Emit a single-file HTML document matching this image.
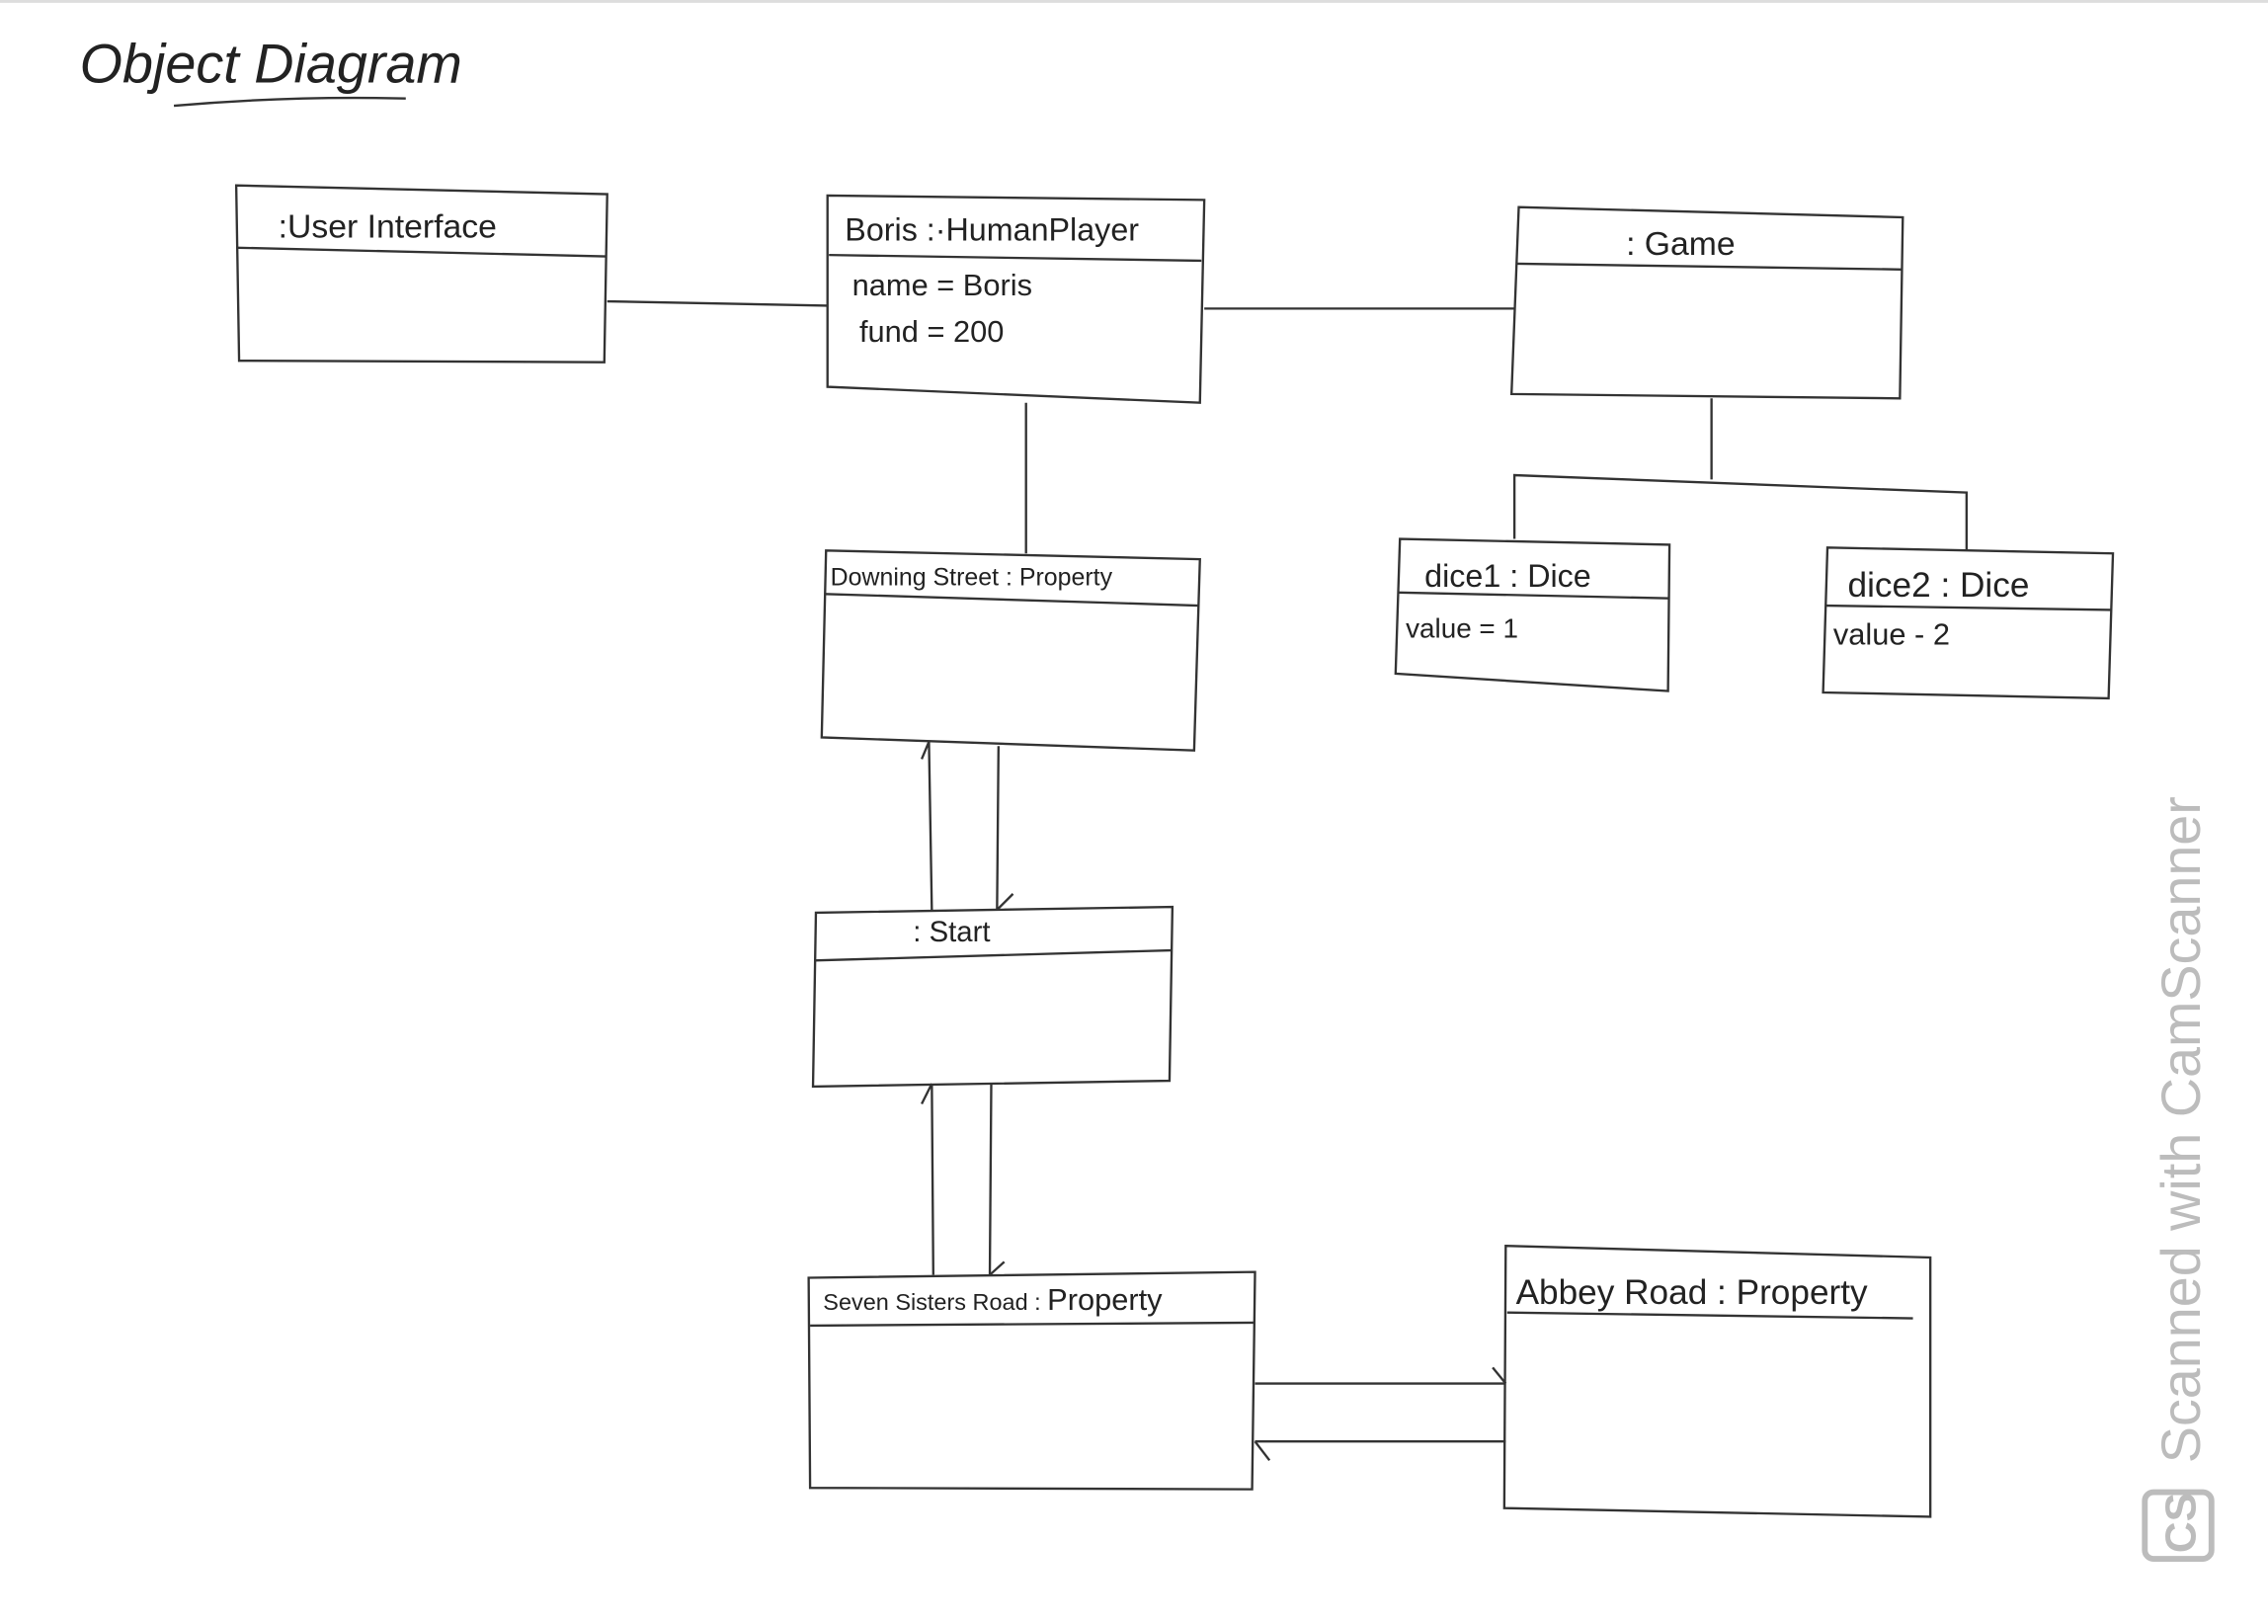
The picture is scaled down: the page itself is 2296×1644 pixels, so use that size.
<!DOCTYPE html>
<html><head><meta charset="utf-8"><style>
html,body{margin:0;padding:0;background:#fff;}
svg{display:block}
text{font-family:"Liberation Sans",sans-serif;fill:#222}
</style></head><body>
<svg width="2296" height="1644" viewBox="0 0 1565 1121" preserveAspectRatio="none" xmlns="http://www.w3.org/2000/svg">
<rect width="1565" height="1121" fill="#fff"/>
<line x1="0" y1="1" x2="1565" y2="1" stroke="#ddd" stroke-width="2"/>
<g fill="none" stroke="#333" stroke-width="1.6">
<path d="M120 73 Q200 66 280 68"/>
<path d="M163 128 L419 134 L417 250 L165 249 Z"/><path d="M164 171 L418 177"/>
<line x1="419" y1="208" x2="571" y2="211"/>
<path d="M571 135 L831 138 L828 278 L571 267 Z"/><path d="M572 176 L829 180"/>
<line x1="831" y1="213" x2="1045" y2="213"/>
<path d="M1048 143 L1313 150 L1311 275 L1043 272 Z"/><path d="M1047 182 L1312 186"/>
<path d="M1181 275 L1181 331"/><path d="M1045 372 L1045 328 L1357 340 L1357 380"/>
<path d="M966 372 L1152 376 L1151 477 L963 465 Z"/><path d="M965 409 L1152 413"/>
<path d="M1261 378 L1458 382 L1455 482 L1258 478 Z"/><path d="M1260 418 L1457 421"/>
<line x1="708" y1="278" x2="708" y2="382"/>
<path d="M570 380 L828 386 L824 518 L567 509 Z"/><path d="M569 410 L827 418"/>
<path d="M643 628 L641 512 M636 524 L641 512"/>
<path d="M689 515 L688 628 M688 628 L699 617"/>
<path d="M563 630 L809 626 L807 746 L561 750 Z"/><path d="M562 663 L808 656"/>
<path d="M644 880 L643 748 M636 762 L643 748"/>
<path d="M684 748 L683 880 M683 880 L693 871"/>
<path d="M558 882 L866 878 L864 1028 L559 1027 Z"/><path d="M559 915 L866 913"/>
<path d="M1039 860 L1332 868 L1332 1047 L1038 1041 Z"/><path d="M1040 906 L1320 910"/>
<path d="M866 955 L1039 955 M1030 944 L1039 955"/>
<path d="M866 995 L1039 995 M866 995 L876 1008"/>
</g>
<text x="55" y="57" font-size="38" font-style="italic">Object  Diagram</text>
<text x="192" y="164" font-size="23">:User Interface</text>
<text x="583" y="166" font-size="22">Boris :·HumanPlayer</text>
<text x="588" y="204" font-size="21">name = Boris</text>
<text x="593" y="236" font-size="21">fund  =  200</text>
<text x="1122" y="176" font-size="23" fill="#444">: Game</text>
<text x="983" y="405" font-size="22">dice1 : Dice</text>
<text x="970" y="440" font-size="19">value = 1</text>
<text x="1275" y="412" font-size="24">dice2 : Dice</text>
<text x="1265" y="445" font-size="21">value - 2</text>
<text x="573" y="404" font-size="17">Downing Street : Property</text>
<text x="630" y="650" font-size="20">:  Start</text>
<text x="568" y="904" font-size="16">Seven Sisters Road : <tspan font-size="21">Property</tspan></text>
<text x="1046" y="900" font-size="24">Abbey Road : Property</text>
<text transform="translate(1518,1010) rotate(-90)" font-size="38" style="fill:#bcbcbc">Scanned with CamScanner</text>
<rect x="1480" y="1030" width="46" height="46" rx="6" fill="none" stroke="#bcbcbc" stroke-width="4"/>
<text transform="translate(1515,1072) rotate(-90)" font-size="30" font-weight="bold" style="fill:#bcbcbc">CS</text>
</svg>
</body></html>
